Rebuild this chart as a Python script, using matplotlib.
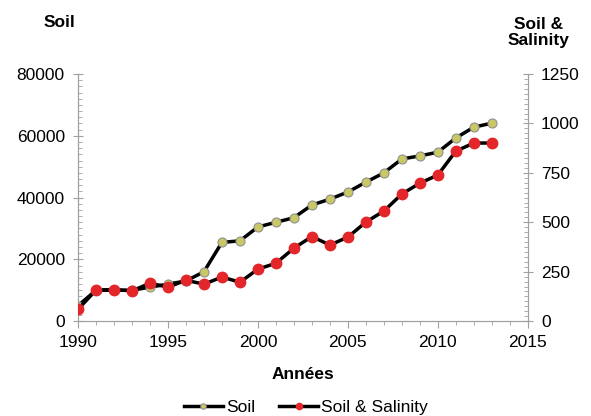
import matplotlib.pyplot as plt
from matplotlib.ticker import MultipleLocator

# === DONNEES ===
annees = list(range(1990, 2014))
soil = [5000, 10000, 10000, 10000, 11000, 12000, 13000, 16000, 25500, 26000,
        30500, 32000, 33500, 37600, 39500, 41800, 45000, 48000, 52500, 53500,
        54700, 59300, 62800, 64100]
soil_salinity = [60, 157, 160, 153, 192, 172, 207, 187, 223, 197,
                 263, 293, 369, 428, 385, 425, 501, 557, 643, 698,
                 739, 860, 901, 901]

gris = "#a0a0a0"
plt.rcParams['font.family'] = ['Liberation Sans', 'DejaVu Sans']
fs = 12.5

fig = plt.figure(figsize=(5.91, 4.16), dpi=100)
ax1 = fig.add_axes([0.132, 0.228, 0.761, 0.594])
ax2 = ax1.twinx()

l1, = ax1.plot(annees, soil, '-o', color='black', lw=2.5, ms=6.5,
               markerfacecolor='#c9c864', markeredgecolor='#909090', markeredgewidth=0.8,
               label="Soil", zorder=3)
l2, = ax2.plot(annees, soil_salinity, '-o', color='black', lw=2.5, ms=7.5,
               markerfacecolor='#e3262a', markeredgecolor='#e3262a',
               label="Soil & Salinity", zorder=3)

ax1.set_xlim(1990, 2015)
ax1.set_ylim(0, 80000)
ax2.set_ylim(0, 1250)
ax1.xaxis.set_major_locator(MultipleLocator(5))
ax1.xaxis.set_minor_locator(MultipleLocator(1))
ax1.yaxis.set_major_locator(MultipleLocator(20000))
ax1.yaxis.set_minor_locator(MultipleLocator(2000))
ax2.yaxis.set_major_locator(MultipleLocator(250))
ax2.yaxis.set_minor_locator(MultipleLocator(25))

for a in (ax1, ax2):
    for s in a.spines.values():
        s.set_color(gris)
    a.spines['top'].set_visible(False)
    a.tick_params(axis='both', which='both', color=gris, labelsize=fs)
    a.tick_params(axis='y', which='major', direction='inout', length=7, pad=6)
    a.tick_params(axis='y', which='minor', direction='in', length=3)
ax1.tick_params(axis='x', which='major', direction='out', length=5, pad=5)
ax1.tick_params(axis='x', which='minor', direction='out', length=3)

ax1.set_xlabel("Années", fontweight='bold', fontsize=fs, labelpad=12)
fig.text(0.10, 0.947, "Soil", fontweight='bold', fontsize=fs, ha='center', va='center')
fig.text(0.912, 0.96, "Soil &\nSalinity", fontweight='bold', fontsize=fs, ha='center',
         va='top', linespacing=1.1)

fig.legend([l1, l2], ["Soil", "Soil & Salinity"], loc='center', ncol=2,
           frameon=False, fontsize=fs, bbox_to_anchor=(0.518, 0.02),
           handlelength=2.2, handletextpad=0.2, columnspacing=1.4, markerscale=0.6)

plt.savefig("out.png", dpi=100)
